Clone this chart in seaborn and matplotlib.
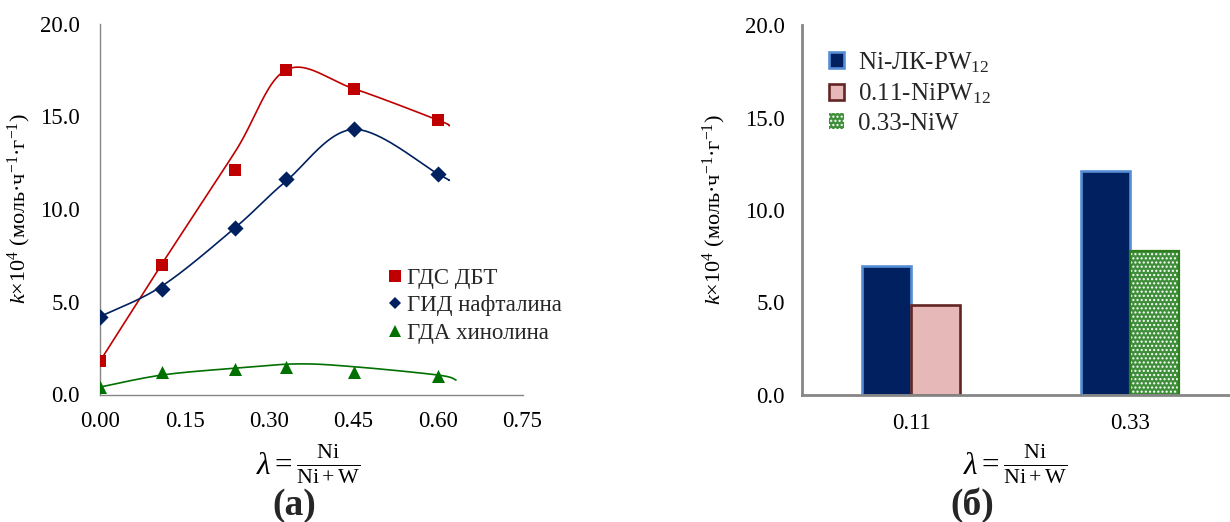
import numpy as np
import pandas as pd
import matplotlib
matplotlib.use("Agg")
import matplotlib.pyplot as plt
import seaborn as sns
from matplotlib.lines import Line2D
from matplotlib.patches import Patch, Rectangle

# ---------------- data: panel (а) ----------------
lam = [0.00, 0.11, 0.24, 0.33, 0.45, 0.60]
k_hds_dbt = [1.8, 7.0, 12.1, 17.5, 16.5, 14.8]      # ГДС ДБТ
k_hyd_naph = [4.2, 5.7, 9.0, 11.6, 14.3, 11.9]      # ГИД нафталина
k_hdn_quin = [0.4, 1.2, 1.4, 1.5, 1.2, 1.0]         # ГДА хинолина

# knots of the smoothed trend lines
trend_hds_x = [0.00, 0.11, 0.24, 0.33, 0.45, 0.60, 0.62]
trend_hds_y = [1.8, 7.05, 13.1, 17.5, 16.5, 14.8, 14.5]
trend_naph_x = [0.00, 0.11, 0.24, 0.33, 0.45, 0.60, 0.62]
trend_naph_y = [4.2, 5.85, 9.0, 11.5, 14.3, 11.9, 11.55]
trend_quin_x = [0.00, 0.11, 0.24, 0.35, 0.45, 0.60, 0.632]
trend_quin_y = [0.4, 1.05, 1.42, 1.65, 1.5, 1.05, 0.78]

series_names = ["ГДС ДБТ", "ГИД нафталина", "ГДА хинолина"]
x_ticks_a = [0.00, 0.15, 0.30, 0.45, 0.60, 0.75]
y_ticks = [0.0, 5.0, 10.0, 15.0, 20.0]

# ---------------- data: panel (б) ----------------
lam_cats = ["0.11", "0.33"]
k_ni_lk_pw = [7.0, 12.1]          # Ni-ЛК-PW12
k_reference = [4.85, 7.8]         # 0.11-NiPW12 / 0.33-NiW
bar_names = ["Ni-ЛК-PW$_{12}$", "0.11-NiPW$_{12}$", "0.33-NiW"]

# ---------------- styling ----------------
sns.set_theme(style="white")
plt.rcParams["font.family"] = ["Liberation Serif", "DejaVu Serif"]
plt.rcParams["mathtext.fontset"] = "custom"
plt.rcParams["mathtext.rm"] = "Liberation Serif"
plt.rcParams["mathtext.it"] = "Liberation Serif:italic"
plt.rcParams["mathtext.bf"] = "Liberation Serif:bold"
plt.rcParams["hatch.linewidth"] = 1.0

RED = "#C00000"
NAVY = "#002060"
GREEN = "#007000"
AXIS_GRAY = "#868686"


def smooth_curve(xs, ys, n=40):
    """Bezier smoothing through the knots (control points at 1/6 of neighbour span)."""
    p = np.column_stack([xs, ys]).astype(float)
    ext = np.vstack([p[0], p, p[-1]])
    t = np.linspace(0, 1, n)[:, None]
    out = []
    for i in range(len(p) - 1):
        p0, p3 = p[i], p[i + 1]
        c1 = p0 + (ext[i + 2] - ext[i]) / 6.0
        c2 = p3 - (ext[i + 3] - ext[i + 1]) / 6.0
        seg = ((1 - t) ** 3) * p0 + 3 * ((1 - t) ** 2) * t * c1 + 3 * (1 - t) * t ** 2 * c2 + t ** 3 * p3
        out.append(seg if i == 0 else seg[1:])
    out = np.vstack(out)
    return out[:, 0], out[:, 1]


fig = plt.figure(figsize=(12.3, 5.22), dpi=100)
ax1 = fig.add_axes([100 / 1230, 127.5 / 522, 422.5 / 1230, 370.8 / 522])
ax2 = fig.add_axes([801.7 / 1230, 127.0 / 522, 438.0 / 1230, 370.0 / 522])

# ---------------- panel (а) ----------------
points = [
    (k_hds_dbt, trend_hds_x, trend_hds_y, RED, "s", 80),
    (k_hyd_naph, trend_naph_x, trend_naph_y, NAVY, "D", 68),
    (k_hdn_quin, trend_quin_x, trend_quin_y, GREEN, "^", 88),
]
for vals, tx, ty, col, mk, size in points:
    cx, cy = smooth_curve(tx, ty)
    sns.lineplot(x=cx, y=cy, sort=False, estimator=None, color=col, lw=1.2, ax=ax1, zorder=2)
    sns.scatterplot(x=lam, y=vals, color=col, marker=mk, s=size, linewidth=0, ax=ax1, zorder=3)

ax1.set_xlim(0, 0.75)
ax1.set_ylim(0, 20)
ax1.set_xticks(x_ticks_a)
ax1.set_xticklabels([f"{v:.2f}" for v in x_ticks_a])
ax1.set_yticks(y_ticks)
ax1.set_yticklabels([f"{v:.1f}" for v in y_ticks])

leg_handles = [
    Line2D([], [], ls="none", marker="s", color=RED, markersize=8.6, markeredgewidth=0),
    Line2D([], [], ls="none", marker="D", color=NAVY, markersize=6.6, markeredgewidth=0),
    Line2D([], [], ls="none", marker="^", color=GREEN, markersize=9.0, markeredgewidth=0),
]
ax1.legend(leg_handles, series_names, loc="upper left", bbox_to_anchor=(388 / 1230, 1 - 268 / 522),
           bbox_transform=fig.transFigure, frameon=False, fontsize=16.5, handlelength=0.65,
           handletextpad=0.2, labelspacing=0.28, borderpad=0, borderaxespad=0)

# ---------------- panel (б) ----------------
bars = pd.DataFrame({
    "lam": lam_cats + lam_cats,
    "k": k_ni_lk_pw + k_reference,
    "slot": ["left"] * len(lam_cats) + ["right"] * len(lam_cats),
})
sns.barplot(data=bars, x="lam", y="k", hue="slot", width=0.45, dodge=True, gap=0,
            legend=False, ax=ax2, errorbar=None)

rects = sorted([p for p in ax2.patches if isinstance(p, Rectangle)], key=lambda r: r.get_x())
navy_style = dict(facecolor=NAVY, edgecolor="#558ED5", linewidth=1.9)
pink_style = dict(facecolor="#E6B9B8", edgecolor="#632523", linewidth=1.9)
for r, style in zip(rects, [navy_style, pink_style, navy_style, None]):
    if style is None:
        # dotted green fill with a solid green outline on top
        r.set_facecolor("#3F8F3A")
        r.set_edgecolor("white")
        r.set_linewidth(0)
        r.set_hatch("....")
        ax2.add_patch(Rectangle((r.get_x(), r.get_y()), r.get_width(), r.get_height(),
                                fill=False, edgecolor="#2E7D1E", linewidth=1.6, zorder=r.get_zorder()))
    else:
        r.set(**style)

ax2.set_xlim(-0.5, 1.5)
ax2.set_ylim(0, 20)
ax2.set_yticks(y_ticks)
ax2.set_yticklabels([f"{v:.1f}" for v in y_ticks])
ax2.set_xticks([0, 1])
ax2.set_xticklabels(lam_cats)
ax2.set_xticks([-0.5, 0.5, 1.5], minor=True)

bar_handles = [
    Patch(facecolor=NAVY, edgecolor="#558ED5", linewidth=1.9),
    Patch(facecolor="#E6B9B8", edgecolor="#632523", linewidth=1.9),
    Patch(facecolor="#3F8F3A", edgecolor="white", linewidth=0, hatch="...."),
]
ax2.legend(bar_handles, bar_names, loc="upper left", bbox_to_anchor=(829 / 1230, 1 - 50 / 522),
           bbox_transform=fig.transFigure, frameon=False, fontsize=18, handlelength=0.6,
           handleheight=0.6, handletextpad=0.55, labelspacing=0.28, borderpad=0, borderaxespad=0)

# ---------------- axes cosmetics ----------------
ylabel = r"$k$×10$^{4}$ (моль·ч$^{-1}$·г$^{-1}$)"
xlabel = r"$\lambda = \frac{\mathrm{Ni}}{\mathrm{Ni+W}}$"

for ax, lw in [(ax1, 1.0), (ax2, 2.0)]:
    for side in ["top", "right"]:
        ax.spines[side].set_visible(False)
    for side in ["left", "bottom"]:
        ax.spines[side].set_color(AXIS_GRAY)
        ax.spines[side].set_linewidth(lw)
    ax.set_ylabel(ylabel, fontsize=16, color="black")
    ax.set_xlabel(xlabel, fontsize=22.5, color="black")
    ax.grid(False)

ax1.tick_params(axis="both", which="major", direction="out", length=5, width=1.0,
                color=AXIS_GRAY, labelsize=16.5, labelcolor="black")
ax1.tick_params(axis="y", pad=9.5)
ax1.tick_params(axis="x", pad=7)
ax1.yaxis.set_label_coords((33 - 100) / 422.5, 0.5)
ax1.xaxis.set_label_coords((308 - 100) / 422.5, -0.13)

ax2.tick_params(axis="y", which="major", direction="out", length=5, width=2.0,
                color=AXIS_GRAY, labelsize=16.5, labelcolor="black", pad=7)
ax2.tick_params(axis="x", which="major", length=0, labelsize=16.5, labelcolor="black", pad=13)
ax2.tick_params(axis="x", which="minor", direction="out", length=5, width=2.0, color=AXIS_GRAY)
ax2.yaxis.set_label_coords((728 - 801.7) / 438.0, 0.5)
ax2.xaxis.set_label_coords((1015 - 801.7) / 438.0, -0.13)

fig.text(294 / 1230, 7.5 / 522, "(а)", fontsize=27, fontweight="bold", ha="center", va="baseline")
fig.text(972 / 1230, 7.5 / 522, "(б)", fontsize=27, fontweight="bold", ha="center", va="baseline")

fig.savefig("out.png", dpi=100, facecolor="white")
